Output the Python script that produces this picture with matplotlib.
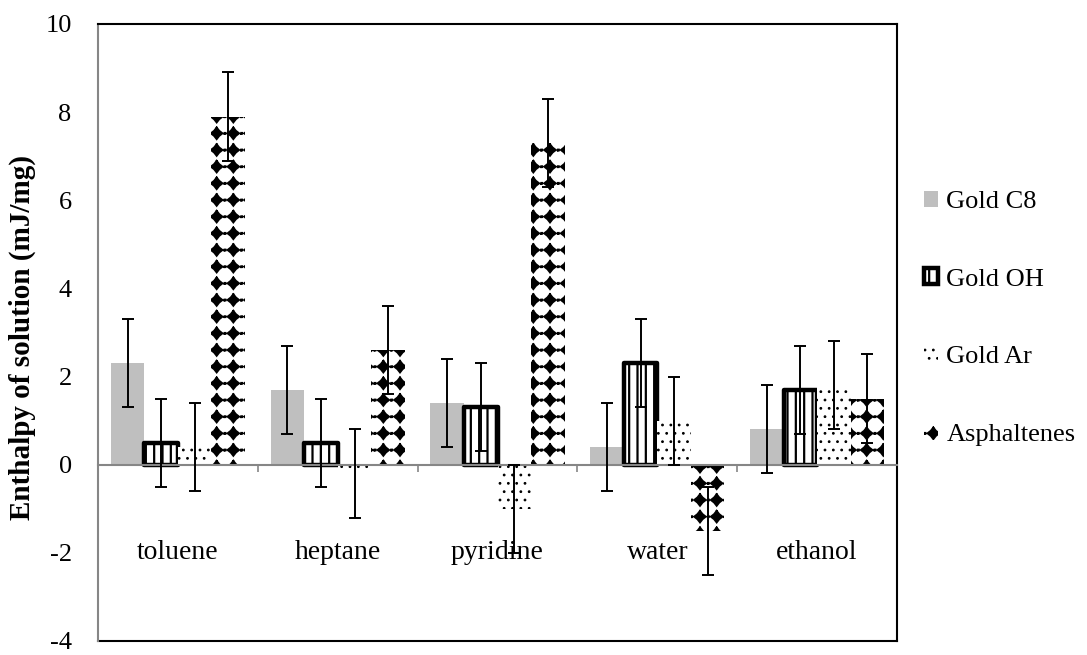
#Imports
import numpy as np
import matplotlib
matplotlib.use("Agg")
import matplotlib.pyplot as plt
import matplotlib.hatch as mhatch
from matplotlib.path import Path

#Data
solvents = ["toluene", "heptane", "pyridine", "water", "ethanol"]
series_names = ["Gold C8", "Gold OH", "Gold Ar", "Asphaltenes"]
gold_c8 = [2.3, 1.7, 1.4, 0.4, 0.8]
gold_oh = [0.5, 0.5, 1.3, 2.3, 1.7]
gold_ar = [0.4, -0.2, -1.0, 1.0, 1.8]
asphaltenes = [7.9, 2.6, 7.3, -1.5, 1.5]
err_c8 = [1.0, 1.0, 1.0, 1.0, 1.0]
err_oh = [1.0, 1.0, 1.0, 1.0, 1.0]
err_ar = [1.0, 1.0, 1.0, 1.0, 1.0]
err_asph = [1.0, 1.0, 1.0, 1.0, 1.0]
y_ticks = [-4, -2, 0, 2, 4, 6, 8, 10]


#Custom hatch: rows of filled diamonds with tiny dots between them
class DiamondHatch(mhatch.HatchPatternBase):
	def __init__(self, hatch, density):
		self.num_rows = hatch.count('*') * density
		self.star = Path.unit_regular_star(4, 0.62).vertices
		d = 0.035
		self.dot = np.array([[-d, -d], [d, -d], [d, d], [-d, d], [-d, -d]])
		if self.num_rows == 0:
			self.num_vertices = 0
		else:
			n = self.num_rows
			self.num_vertices = (n + 1) ** 2 * len(self.star) + n * (n + 1) * len(self.dot)

	def set_vertices_and_codes(self, vertices, codes):
		n = self.num_rows
		off = 1.0 / n
		star = self.star * off * 0.36
		dot = self.dot * off
		verts = []
		cds = []
		for row in range(n + 1):
			for col in range(n + 1):
				verts.append(star + [col * off, row * off])
				c = np.full(len(star), Path.LINETO, dtype=Path.code_type)
				c[0] = Path.MOVETO
				cds.append(c)
			for col in range(n):
				verts.append(dot + [(col + 0.5) * off, row * off])
				c = np.full(len(dot), Path.LINETO, dtype=Path.code_type)
				c[0] = Path.MOVETO
				cds.append(c)
		vertices[:] = np.concatenate(verts)
		codes[:] = np.concatenate(cds)


mhatch._hatch_types = [t for t in mhatch._hatch_types if t is not mhatch.Stars] + [DiamondHatch]

#Fonts
plt.rcParams['font.family'] = ['Liberation Serif', 'DejaVu Serif']
plt.rcParams['hatch.linewidth'] = 1.2

fig = plt.figure(figsize=(10.87, 6.55), dpi=100)
ax = fig.add_axes([0.0902, 0.0215, 0.7350, 0.9419])

x = np.arange(len(solvents))
w = 0.21
offsets = [-1.5 * w, -0.5 * w, 0.5 * w, 1.5 * w]
values = [gold_c8, gold_oh, gold_ar, asphaltenes]
errors = [err_c8, err_oh, err_ar, err_asph]
styles = [
	dict(color="#bfbfbf", edgecolor="none", linewidth=0),
	dict(color="white", edgecolor="black", linewidth=3.2, hatch="||", joinstyle="round"),
	dict(color="white", edgecolor="black", linewidth=0, hatch=".."),
	dict(color="white", edgecolor="black", linewidth=0, hatch="*"),
]
hatch_widths = [1.0, 1.6, 0.8, 1.2]

for vals, errs, off, st, hw, name in zip(values, errors, offsets, styles, hatch_widths, series_names):
	bars = ax.bar(x + off, vals, w, label=name, zorder=2, **st)
	for b in bars:
		if hasattr(b, "set_hatch_linewidth"):
			b.set_hatch_linewidth(hw)
	ax.errorbar(x + off, vals, yerr=errs, fmt="none", ecolor="black",
		elinewidth=1.4, capsize=4.3, capthick=1.4, zorder=4)

#Axes
ax.set_xlim(-0.5, len(solvents) - 0.5)
ax.set_ylim(-4, 10)
ax.set_yticks(y_ticks)
ax.set_yticklabels([str(t) for t in y_ticks])
ax.tick_params(axis="y", length=0, pad=19, labelsize=19)

ax.spines["bottom"].set_position(("data", 0))
ax.spines["bottom"].set_color("#868686")
ax.spines["bottom"].set_linewidth(1.5)
ax.spines["bottom"].set_zorder(3)
ax.spines["left"].set_color("#868686")
ax.spines["left"].set_linewidth(1.5)
ax.spines["top"].set_linewidth(1.5)
ax.spines["right"].set_linewidth(1.5)
ax.plot([0, 1], [0, 0], transform=ax.transAxes, color="black", linewidth=1.5, clip_on=False)

ax.set_xticks(x)
ax.set_xticklabels(solvents)
ax.set_xticks(x[:-1] + 0.5, minor=True)
ax.tick_params(axis="x", which="major", length=0, pad=54, labelsize=20)
ax.tick_params(axis="x", which="minor", length=5, width=1.2, color="#868686", direction="out")

fig.text(22 / 1087, 1 - 338 / 655, "Enthalpy of solution (mJ/mg)", rotation=90,
	ha="center", va="center", fontsize=21, fontweight="bold")

#Legend
leg = fig.legend(loc="center left", bbox_to_anchor=(0.850, 0.514), frameon=False,
	fontsize=19, handlelength=0.55, handleheight=0.55, handletextpad=0.3,
	labelspacing=2.1, borderpad=0, borderaxespad=0)
for h, hw in zip(leg.get_patches(), hatch_widths):
	if hasattr(h, "set_hatch_linewidth"):
		h.set_hatch_linewidth(hw)

fig.savefig("out.png", dpi=100)
